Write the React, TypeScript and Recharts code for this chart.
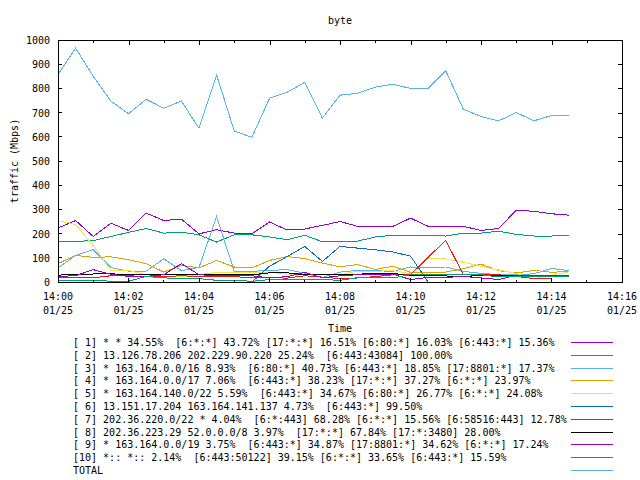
import React from 'react';
import { LineChart, Line, XAxis, YAxis } from 'recharts';

// sample times, minutes after 14:00 (30 s interval)
const minutes = [0, 0.5, 1, 1.5, 2, 2.5, 3, 3.5, 4, 4.5, 5, 5.5, 6, 6.5, 7, 7.5, 8, 8.5, 9, 9.5, 10, 10.5, 11, 11.5, 12, 12.5, 13, 13.5, 14, 14.5];

const s1 = [223, 254, 188, 243, 213, 285, 254, 260, 199, 216, 202, 199, 248, 215, 219, 234, 250, 230, 230, 230, 264, 230, 230, 230, 213, 221, 297, 292, 282, 276];
const s2 = [168, 168, 171, 188, 205, 221, 202, 206, 195, 165, 195, 195, 186, 175, 193, 166, 166, 169, 186, 193, 193, 193, 190, 202, 202, 210, 197, 190, 190, 194];
const s3 = [58, 110, 134, 60, 45, 45, 96, 47, 60, 270, 44, 44, 48, 51, 37, 19, 41, 48, 47, 44, 62, 58, 62, 44, 36, 30, 30, 34, 56, 47];
const s4 = [76, 110, 102, 104, 92, 76, 41, 69, 58, 89, 62, 58, 89, 105, 97, 78, 63, 72, 52, 65, 40, 40, 41, 55, 74, 47, 37, 48, 40, 44];
const s5 = [254, 237, 150, 48, 48, 30, 23, 23, 30, 40, 40, 40, 40, 33, 30, 30, 30, 45, 44, 48, 33, 98, 95, 82, 65, 50, 35, 14, 28, 42];
const s6 = [0, 0, 0, 0, 0, 0, 0, 0, 0, 0, 0, 0, 65, 105, 147, 85, 147, 140, 133, 124, 107, 0, 0, 0, 0, 0, 0, 0, 0, 0];
const s7 = [17, 17, 17, 26, 26, 22, 22, 26, 22, 24, 22, 18, 18, 16, 26, 20, 14, 17, 22, 30, 30, 102, 172, 30, 30, 30, 23, 14, 14, null];
const s8 = [28, 33, 33, 34, 30, 30, 30, 30, 30, 30, 30, 30, 38, 38, 30, 30, 30, 32, 36, 36, 25, 25, 25, 22, 28, 28, 28, 25, 25, null];
const s9 = [23, 26, 51, 32, 23, 23, 30, 76, 30, 26, 26, 26, 17, 22, 40, 17, 26, 30, 33, 33, 10, 19, 19, 23, 17, 10, 28, 28, 28, 28];
const s10 = [8, 8, 8, 3, 3, 23, 17, 14, 14, 7, 7, 3, 10, 10, 10, 10, 7, 17, 17, 17, 30, 30, 30, 30, 30, 21, 21, 21, 21, 21];
const total = [858, 966, 850, 748, 695, 755, 718, 748, 635, 855, 624, 598, 759, 784, 825, 677, 772, 780, 805, 817, 800, 800, 873, 714, 684, 666, 700, 666, 688, 688];

const seriesValues = [s1, s2, s3, s4, s5, s6, s7, s8, s9, s10, total];

const seriesLabels = [
  '[ 1] * * 34.55%  [6:*:*] 43.72% [17:*:*] 16.51% [6:80:*] 16.03% [6:443:*] 15.36%',
  '[ 2] 13.126.78.206 202.229.90.220 25.24%  [6:443:43084] 100.00%',
  '[ 3] * 163.164.0.0/16 8.93%  [6:80:*] 40.73% [6:443:*] 18.85% [17:8801:*] 17.37%',
  '[ 4] * 163.164.0.0/17 7.06%  [6:443:*] 38.23% [17:*:*] 37.27% [6:*:*] 23.97%',
  '[ 5] * 163.164.140.0/22 5.59%  [6:443:*] 34.67% [6:80:*] 26.77% [6:*:*] 24.08%',
  '[ 6] 13.151.17.204 163.164.141.137 4.73%  [6:443:*] 99.50%',
  '[ 7] 202.36.220.0/22 * 4.04%  [6:*:443] 68.28% [6:*:*] 15.56% [6:58516:443] 12.78%',
  '[ 8] 202.36.223.29 52.0.0.0/8 3.97%  [17:*:*] 67.84% [17:*:3480] 28.00%',
  '[ 9] * 163.164.0.0/19 3.75%  [6:443:*] 34.87% [17:8801:*] 34.62% [6:*:*] 17.24%',
  '[10] *:: *:: 2.14%  [6:443:50122] 39.15% [6:*:*] 33.65% [6:443:*] 15.59%',
  'TOTAL',
];

const seriesColors = ['#9400d3', '#009e73', '#56b4e9', '#e69f00', '#f0e442', '#0072b2', '#e51e10', '#000000', '#9400d3', '#009e73', '#56b4e9'];

const xTicks = [0, 1, 2, 3, 4, 5, 6, 7, 8, 9, 10, 11, 12, 13, 14, 15, 16];
const xTickLabels = ['14:00', '', '14:02', '', '14:04', '', '14:06', '', '14:08', '', '14:10', '', '14:12', '', '14:14', '', '14:16'];
const dateLabel = '01/25';
const yTicks = [0, 100, 200, 300, 400, 500, 600, 700, 800, 900, 1000];
const X_MAX = 16;
const Y_MAX = 1000;

const FONT = '"DejaVu Sans Mono", "Liberation Mono", monospace';

// chart geometry
const W = 640;
const H = 480;
const MARGIN = { top: 40, right: 18, left: 0, bottom: 158 };
const Y_AXIS_W = 58;
const X_AXIS_H = 40;
const PLOT_L = MARGIN.left + Y_AXIS_W;
const PLOT_T = MARGIN.top;
const PLOT_W = W - MARGIN.left - MARGIN.right - Y_AXIS_W;
const PLOT_H = H - MARGIN.top - MARGIN.bottom - X_AXIS_H;

const data = minutes.map((t, i) => {
  const row: Record<string, number | null> = { t };
  seriesValues.forEach((vals, k) => {
    row['s' + k] = vals[i];
  });
  return row;
});

function BottomTick(props: any) {
  const { x, y, index } = props;
  const label = xTickLabels[index];
  const len = label !== '' ? 4 : 2;
  return (
    <g>
      <line x1={x} y1={y} x2={x} y2={y - len} stroke="#000" shapeRendering="crispEdges" />
      {label !== '' && (
        <text textAnchor="middle" fontFamily={FONT} fontSize={10} fill="#000">
          <tspan x={x} y={y + 18}>{label}</tspan>
          <tspan x={x} y={y + 32}>{dateLabel}</tspan>
        </text>
      )}
    </g>
  );
}

function LeftTick(props: any) {
  const { x, y, payload } = props;
  return (
    <g>
      <line x1={x} y1={y} x2={x + 4} y2={y} stroke="#000" shapeRendering="crispEdges" />
      <text x={x - 8} y={y + 4} textAnchor="end" fontFamily={FONT} fontSize={10} fill="#000">
        {payload.value}
      </text>
    </g>
  );
}

// gnuplot style frame: full border with mirrored inward ticks on top and right
function Frame() {
  const r = PLOT_L + PLOT_W;
  const b = PLOT_T + PLOT_H;
  return (
    <g>
      <path
        d={`M${PLOT_L + 0.5},${PLOT_T + 0.5}H${r + 0.5}V${b + 0.5}H${PLOT_L + 0.5}Z`}
        fill="none"
        stroke="#000000"
        strokeWidth={1}
      />
      {xTicks.map((t, i) => {
        const x = Math.round(PLOT_L + (t / X_MAX) * PLOT_W) + 0.5;
        const len = xTickLabels[i] !== '' ? 4 : 2;
        return <path key={'t' + i} d={`M${x},${PLOT_T}V${PLOT_T + len + 1}`} stroke="#000000" strokeWidth={1} fill="none" />;
      })}
      {yTicks.map((v, i) => {
        const y = Math.round(PLOT_T + PLOT_H - (v / Y_MAX) * PLOT_H) + 0.5;
        return <path key={'r' + i} d={`M${r + 1},${y}H${r - 4}`} stroke="#000000" strokeWidth={1} fill="none" />;
      })}
    </g>
  );
}

export default function App() {
  const axisLine = { stroke: '#000', strokeWidth: 1, shapeRendering: 'crispEdges' } as any;
  return (
    <div style={{ position: 'absolute', left: 0, top: 0, width: W, height: H, background: '#fff', fontFamily: FONT }}>
      <LineChart width={W} height={H} data={data} margin={MARGIN}>
        <XAxis
          xAxisId="b"
          dataKey="t"
          type="number"
          domain={[0, X_MAX]}
          ticks={xTicks}
          interval={0}
          height={X_AXIS_H}
          tickSize={0}
          tickMargin={0}
          axisLine={axisLine}
          tickLine={false}
          tick={<BottomTick />}
        />
        <YAxis
          yAxisId="l"
          domain={[0, Y_MAX]}
          ticks={yTicks}
          interval={0}
          width={Y_AXIS_W}
          tickSize={0}
          tickMargin={0}
          axisLine={axisLine}
          tickLine={false}
          tick={<LeftTick />}
        />
        {seriesValues.map((_, k) => (
          <Line
            key={k}
            xAxisId="b"
            yAxisId="l"
            type="linear"
            dataKey={'s' + k}
            stroke={seriesColors[k]}
            strokeWidth={1}
            dot={false}
            activeDot={false}
            isAnimationActive={false}
            connectNulls={false}
            shapeRendering="crispEdges"
          />
        ))}
      </LineChart>
      <svg width={W} height={H} style={{ position: 'absolute', left: 0, top: 0, pointerEvents: 'none' }}>
        <Frame />
        <g fontFamily={FONT} fontSize={10} fill="#000">
          <text x={340} y={24} textAnchor="middle">byte</text>
          <text x={340} y={332} textAnchor="middle">Time</text>
          <text transform="translate(18,161) rotate(-90)" textAnchor="middle">traffic (Mbps)</text>
          {seriesLabels.map((label, k) => (
            <g key={k}>
              <text x={73} y={346 + k * 12.8} style={{ whiteSpace: 'pre' }}>{label}</text>
              <line x1={571} x2={613} y1={342.5 + Math.round(k * 12.8)} y2={342.5 + Math.round(k * 12.8)} stroke={seriesColors[k]} strokeWidth={1} shapeRendering="crispEdges" />
            </g>
          ))}
        </g>
      </svg>
    </div>
  );
}
